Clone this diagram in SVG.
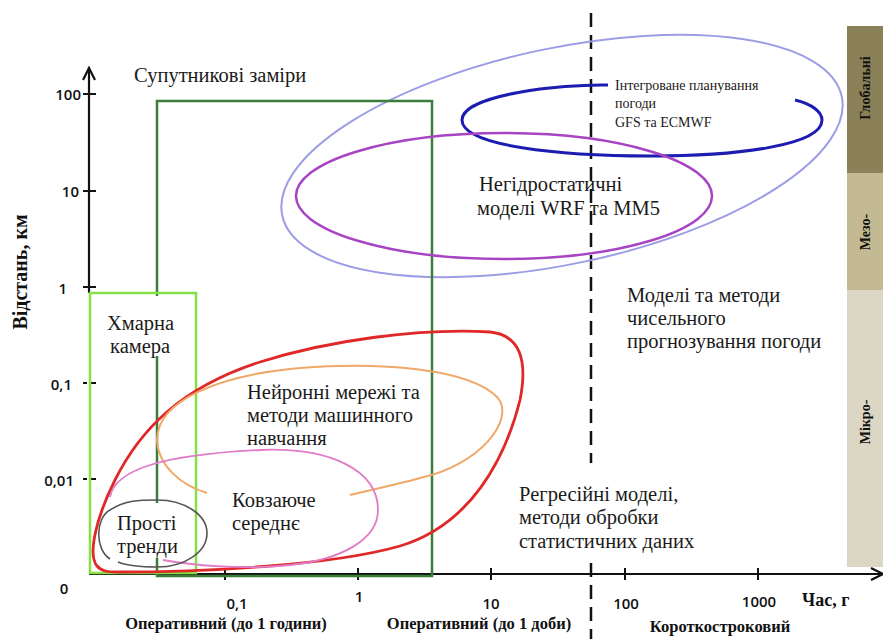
<svg xmlns="http://www.w3.org/2000/svg" width="883" height="639" viewBox="0 0 883 639">
<style>
.t{font-family:"Liberation Serif","Times New Roman",serif;font-size:20.5px;fill:#1a1a1a}
.ts{font-family:"Liberation Serif","Times New Roman",serif;font-size:14px;fill:#1a1a1a}
.b{font-family:"Liberation Serif","Times New Roman",serif;font-weight:bold;fill:#111}
.n{font-family:"Open Sans","Liberation Sans",sans-serif;font-weight:600;font-size:15px;fill:#111}
.ax{stroke:#111;stroke-width:2.2;fill:none}
.tk{stroke:#111;stroke-width:2;fill:none}
</style>
<rect width="883" height="639" fill="#fff"/>
<g id="scale-band">
<rect x="847" y="26" width="36" height="147" fill="#8b8158"/>
<rect x="847" y="173" width="36" height="117" fill="#c3ba94"/>
<rect x="847" y="290" width="36" height="277" fill="#dcd7c4"/>
<text class="b" font-size="14" transform="translate(870,88) rotate(-90)" text-anchor="middle">Глобальні</text>
<text class="b" font-size="14" transform="translate(870,232) rotate(-90)" text-anchor="middle">Мезо-</text>
<text class="b" font-size="14" transform="translate(870,422) rotate(-90)" text-anchor="middle">Мікро-</text>
</g>
<g id="axes">
<path class="ax" d="M89,70 V293"/>
<path class="ax" d="M83,80 L89,68 L95,80"/>
<path class="ax" d="M89,574 H882"/>
<path class="ax" d="M871,568 L883,574 L871,580"/>
<path class="tk" d="M83,94 H96 M83,191 H96 M83,287 H96 M83,383 H87 M91,383 H96 M83,479 H87 M91,479 H96"/>
<path class="tk" d="M225,568 V580 M358,568 V580 M491,568 V580 M625,568 V580 M758,568 V580"/>
<text class="n" x="81" y="100" text-anchor="end">100</text>
<text class="n" x="79" y="197" text-anchor="end">10</text>
<text class="n" x="67" y="294" text-anchor="end">1</text>
<text class="n" x="72" y="390" text-anchor="end">0,1</text>
<text class="n" x="74" y="486" text-anchor="end">0,01</text>
<text class="n" x="64" y="594" text-anchor="middle">0</text>
<text class="n" x="237" y="609" text-anchor="middle">0,1</text>
<text class="n" x="359" y="602" text-anchor="middle">1</text>
<text class="n" x="491" y="609" text-anchor="middle">10</text>
<text class="n" x="626" y="609" text-anchor="middle">100</text>
<text class="n" x="759" y="607" text-anchor="middle">1000</text>
<text class="b" font-size="18" x="802" y="606">Час, г</text>
<text class="b" font-size="20" transform="translate(27,272) rotate(-90)" text-anchor="middle">Відстань, км</text>
<text class="b" font-size="16.5" x="226" y="629" text-anchor="middle">Оперативний (до 1 години)</text>
<text class="b" font-size="16.5" x="479" y="629" text-anchor="middle">Оперативний (до 1 доби)</text>
<text class="b" font-size="16.5" x="720" y="632" text-anchor="middle">Короткостроковий</text>
<path d="M591,13 V463 M591,563 V639" stroke="#111" stroke-width="2.5" stroke-dasharray="14,8" fill="none"/>
</g>
<g id="global-ellipse">
<ellipse cx="562" cy="156" rx="286" ry="108" transform="rotate(-12 562 156)" fill="none" stroke="#9d9de6" stroke-width="2"/>
</g>
<g id="satellite">
<path d="M157,296 V101 H432 V576 H157 V558 M157,503 V356" fill="none" stroke="#3b7d3b" stroke-width="2.5"/>
<text class="t" font-size="16.5" x="134" y="82">Супутникові заміри</text>
</g>
<g id="cloud-camera">
<rect x="90" y="293" width="106" height="280" fill="none" stroke="#84e043" stroke-width="2.5"/>
<text class="t" x="107" y="330">Хмарна</text>
<text class="t" x="110" y="353">камера</text>
</g>
<g id="gfs-ecmwf">
<path d="M608,85 C560,84 462,95 462,120 C462,146 560,156 650,156 C740,156 822,145 822,120 C822,112 812,104 795,100" fill="none" stroke="#1c1cb0" stroke-width="3"/>
<text class="ts" x="615" y="90">Інтегроване планування</text>
<text class="ts" x="615" y="108">погоди</text>
<text class="ts" x="615" y="127">GFS та ECMWF</text>
</g>
<g id="wrf-mm5">
<ellipse cx="504" cy="196" rx="208" ry="63" fill="none" stroke="#a844c4" stroke-width="2.5"/>
<text class="t" x="479" y="191">Негідростатичні</text>
<text class="t" x="477" y="215">моделі WRF та MM5</text>
</g>
<g id="nwp-label">
<text class="t" x="627" y="302">Моделі та методи</text>
<text class="t" x="627" y="325">чисельного</text>
<text class="t" x="627" y="348">прогнозування погоди</text>
</g>
<g id="regression">
<path d="M117,572 C200,572 330,566 400,546 C470,525 505,460 520,400 C528,360 520,335 490,332 C420,328 330,340 260,362 C180,388 140,430 115,480 C95,520 88,555 97,566 C102,572 110,572 117,572 Z" fill="none" stroke="#e02828" stroke-width="2.8"/>
<text class="t" x="519" y="501">Регресійні моделі,</text>
<text class="t" x="519" y="524">методи обробки</text>
<text class="t" x="519" y="548">статистичних даних</text>
</g>
<g id="neural">
<path d="M207,493 C180,485 158,465 157,440 C157,400 220,375 300,368 C380,362 470,368 498,398 C515,420 480,465 420,478 C395,485 370,490 350,495" fill="none" stroke="#f0a868" stroke-width="2"/>
<text class="t" x="247" y="399">Нейронні мережі та</text>
<text class="t" x="247" y="422">методи машинного</text>
<text class="t" x="247" y="445">навчання</text>
</g>
<g id="moving-average">
<path d="M110,497 C115,470 160,455 260,450 C330,447 378,470 378,510 C378,540 340,560 290,565 C240,570 190,565 163,560" fill="none" stroke="#e07cc8" stroke-width="1.8"/>
<text class="t" x="232" y="507">Ковзаюче</text>
<text class="t" x="232" y="530">середнє</text>
</g>
<g id="simple-trends">
<path d="M110,559 C95,550 95,518 110,510 C125,500 140,500 157,500 C185,500 207,515 207,533 C207,552 185,567 157,567 C140,567 128,566 118,562" fill="none" stroke="#555" stroke-width="1.6"/>
<text class="t" x="117" y="530">Прості</text>
<text class="t" x="117" y="553">тренди</text>
</g>
</svg>
